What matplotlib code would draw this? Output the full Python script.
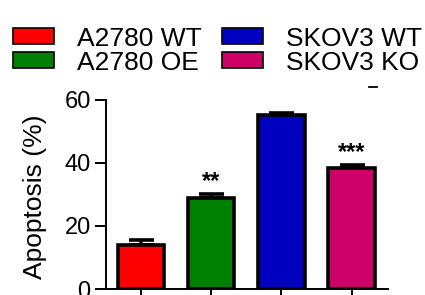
import matplotlib
matplotlib.use("Agg")
import matplotlib.pyplot as plt
from matplotlib.patches import Rectangle
from matplotlib.lines import Line2D

plt.rcParams["font.family"] = ["Liberation Sans", "DejaVu Sans"]

# data
groups = ["A2780 WT", "A2780 OE", "SKOV3 WT", "SKOV3 KO"]
apoptosis = [14.0, 28.8, 55.2, 38.2]
sem = [1.4, 1.3, 0.6, 1.1]
stars = ["", "**", "", "***"]
colors = ["#ff0000", "#008000", "#0000c0", "#cc0066"]
yticks = [0, 20, 40, 60]

fig = plt.figure(figsize=(4.25, 2.95), dpi=100)
ax = fig.add_axes([106 / 425, 6 / 295, 282 / 425, 189.5 / 295])

xs = list(range(len(groups)))
ax.bar(xs, apoptosis, width=0.66, color=colors, edgecolor="black",
       linewidth=2.6, zorder=2)
ax.errorbar(xs, apoptosis, yerr=[[0] * len(sem), sem], fmt="none",
            ecolor="black", elinewidth=2.6, capsize=9, capthick=2.6, zorder=1)
for x, v, e, s in zip(xs, apoptosis, sem, stars):
    if s:
        ax.text(x, v + e + 0.2, s, ha="center", va="bottom", fontsize=17,
                fontweight="bold")

ax.set_xlim(-0.5, 3.52)
ax.set_ylim(0, 60)
ax.set_yticks(yticks)
ax.set_xticks(xs)
ax.set_xticklabels([])
ax.tick_params(axis="y", length=8, width=1.4, labelsize=17, pad=3)
ax.tick_params(axis="x", length=8, width=1.4)
for side in ("top", "right"):
    ax.spines[side].set_visible(False)
for side in ("left", "bottom"):
    ax.spines[side].set_linewidth(1.4)
ax.set_ylabel("Apoptosis (%)", fontsize=19)
ax.yaxis.set_label_coords(-0.209, 0.488)

# legend drawn by hand, two columns
col_x = [13, 222]
row_y = [36, 60]
for i, (g, c) in enumerate(zip(groups, colors)):
    col, row = divmod(i, 2)
    x0 = col_x[col]
    yc = row_y[row]
    fig.add_artist(Rectangle((x0 / 425, 1 - (yc + 8) / 295), 41 / 425, 16 / 295,
                             transform=fig.transFigure, facecolor=c,
                             edgecolor="black", linewidth=1.2))
    fig.text((x0 + 64) / 425, 1 - (yc + 10) / 295, g, fontsize=19,
             ha="left", va="baseline")

# small cropped mark at the top right of the original figure
fig.add_artist(Line2D([369 / 425, 377 / 425], [1 - 87 / 295, 1 - 87 / 295],
                      transform=fig.transFigure, color="black", linewidth=1.3))

fig.savefig("out.png", dpi=100)
